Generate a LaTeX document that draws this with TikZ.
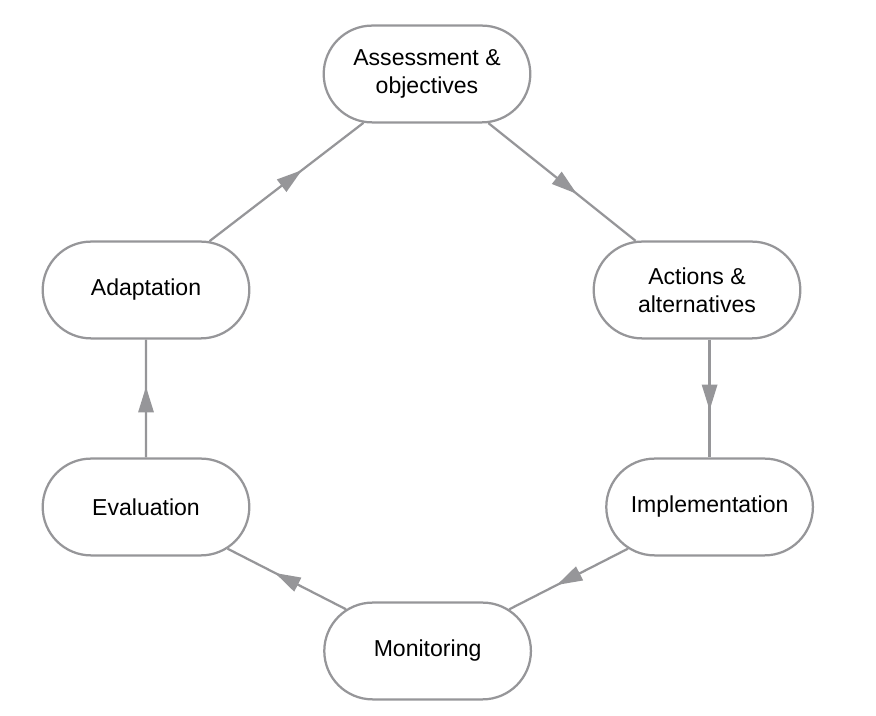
\documentclass[tikz,border=0pt]{standalone}
\usepackage{fontspec}
\setmainfont{Liberation Sans}
\usetikzlibrary{shapes.misc,decorations.markings,arrows.meta}
\definecolor{cyclegray}{RGB}{150,150,153}

\begin{document}
\begin{tikzpicture}[
    stage/.style={draw=cyclegray, line width=1.6pt, rounded rectangle, fill=white,
        minimum width=5.4cm, minimum height=2.42cm, align=center,
        font=\fontsize{16.4pt}{20pt}\selectfont},
    flow/.style={color=cyclegray, line width=1.6pt, postaction={decorate},
        decoration={markings, mark=at position 0.6 with {\arrow{Triangle[length=0.64cm,width=0.38cm]}}}}
]
\useasboundingbox (0,0) rectangle (21.9,17.9);
\path (10.675, 16.05) node[stage] (assess) {Assessment \&\\objectives};
\path (17.425, 10.65) node[stage] (actions) {Actions \&\\alternatives};
\path (17.74, 5.225) node[stage] (impl) {Implementation};
\path (10.69, 1.625) node[stage] (monitor) {Monitoring};
\path (3.65, 5.225) node[stage] (eval) {Evaluation};
\path (3.65, 10.65) node[stage] (adapt) {Adaptation};

\draw[flow] (actions.south -| impl.north) -- (impl.north);
\foreach \from/\to in {assess/actions, impl/monitor, monitor/eval, eval/adapt, adapt/assess}{
    \draw[flow] (\from) -- (\to);
};
\end{tikzpicture}
\end{document}
